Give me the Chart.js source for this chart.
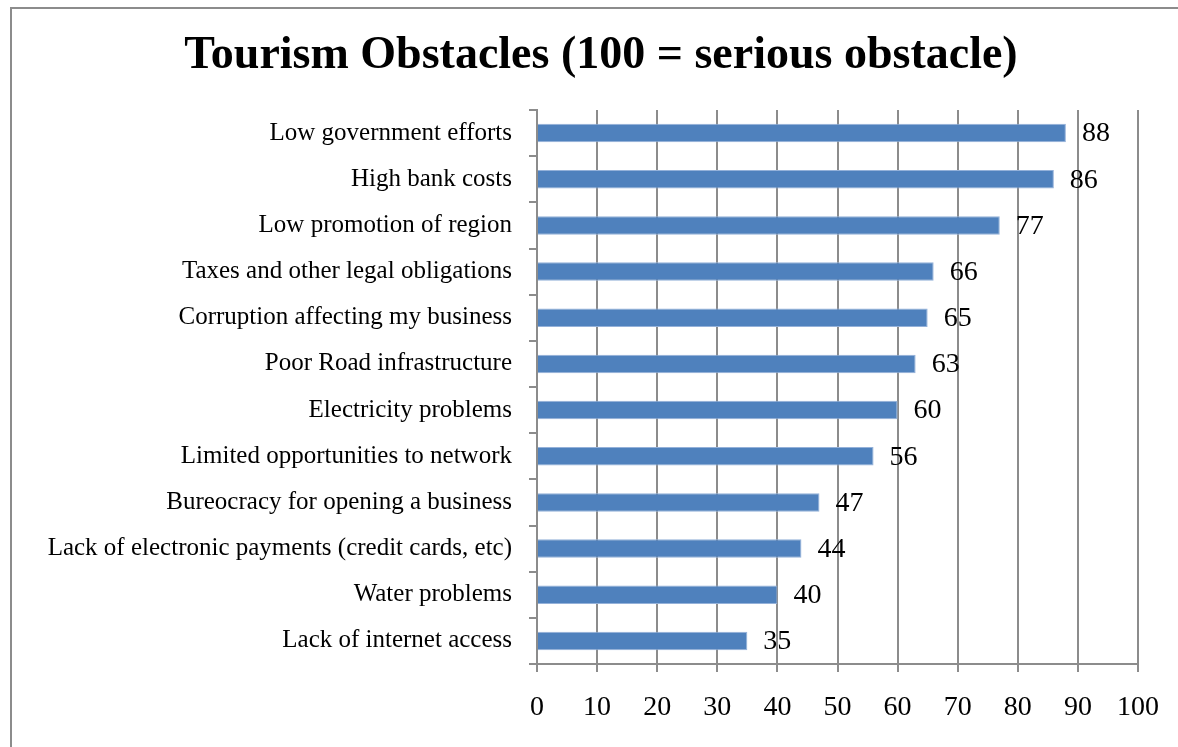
<!DOCTYPE html>
<html>
<head>
<meta charset="utf-8">
<title>Tourism Obstacles</title>
<script src="https://cdn.jsdelivr.net/npm/chart.js@4"></script>
<style>
  html, body { margin: 0; padding: 0; background: #fff; }
  #wrap { position: relative; width: 1178px; height: 747px; overflow: hidden; }
  #frame {
    position: absolute; left: 10px; top: 7px; right: -10px; bottom: -10px;
    border-left: 2px solid #8c8c8c; border-top: 2px solid #8c8c8c;
  }
  #chart { position: absolute; left: 0; top: 0; }
</style>
</head>
<body>
<div id="wrap">
  <div id="frame"></div>
  <canvas id="chart" width="1178" height="747"></canvas>
</div>
<script>
// Obstacle ratings, 0-100 scale (100 = serious obstacle)
const chartTitle = 'Tourism Obstacles (100 = serious obstacle)';
const categories = [
  'Low government efforts',
  'High bank costs',
  'Low promotion of region',
  'Taxes and other legal obligations',
  'Corruption affecting my business',
  'Poor Road infrastructure',
  'Electricity problems',
  'Limited opportunities to network',
  'Bureocracy for opening a business',
  'Lack of electronic payments (credit cards, etc)',
  'Water problems',
  'Lack of internet access'
];
const scores = [88, 86, 77, 66, 65, 63, 60, 56, 47, 44, 40, 35];
const xTicks = [0, 10, 20, 30, 40, 50, 60, 70, 80, 90, 100];

const STYLE = {
  bar:    '#4f81bd',
  barEdge:'#94b1d9',
  grid:   '#8c8c8c',
  text:   '#000',
  serif:  "'Liberation Serif', 'Times New Roman', serif",
};

// title sits centred over the plot + label block, not the whole canvas
const titleText = {
  id: 'titleText',
  afterDraw(chart) {
    const ctx = chart.ctx;
    ctx.save();
    ctx.font = 'bold 46px ' + STYLE.serif;
    ctx.fillStyle = STYLE.text;
    ctx.textAlign = 'center';
    ctx.textBaseline = 'alphabetic';
    ctx.fillText(chartTitle, 601, 68);
    ctx.restore();
  }
};

// numbers printed just past the end of each bar
const valueLabels = {
  id: 'valueLabels',
  afterDatasetsDraw(chart) {
    const ctx = chart.ctx;
    const meta = chart.getDatasetMeta(0);
    ctx.save();
    ctx.font = '28px ' + STYLE.serif;
    ctx.fillStyle = STYLE.text;
    ctx.textAlign = 'left';
    ctx.textBaseline = 'middle';
    meta.data.forEach((bar, i) => {
      ctx.fillText(String(scores[i]), bar.x + 16, bar.y + 1);
    });
    ctx.restore();
  }
};

new Chart(document.getElementById('chart'), {
  type: 'bar',
  data: {
    labels: categories,
    datasets: [{
      data: scores,
      backgroundColor: STYLE.bar,
      borderColor: STYLE.barEdge,
      borderWidth: 1,
      categoryPercentage: 1,
      barPercentage: 0.4,
    }]
  },
  options: {
    indexAxis: 'y',
    responsive: false,
    animation: false,
    layout: { padding: { left: 0, right: 39, top: 110, bottom: 0 } },
    plugins: {
      legend: { display: false },
      tooltip: { enabled: false },
      title: { display: false }
    },
    scales: {
      x: {
        min: 0,
        max: 100,
        afterBuildTicks(scale) { scale.ticks = xTicks.map(v => ({ value: v })); },
        afterFit(scale) { scale.height = 83; },
        ticks: {
          color: STYLE.text,
          font: { family: STYLE.serif, size: 28 },
          padding: 19,
        },
        grid: { color: STYLE.grid, lineWidth: 2, tickLength: 8 },
        border: { color: STYLE.grid, width: 2 }
      },
      y: {
        afterFit(scale) { scale.width = 537; },
        ticks: {
          color: STYLE.text,
          font: { family: STYLE.serif, size: 25 },
          padding: 17,
        },
        grid: { color: STYLE.grid, lineWidth: 2, tickLength: 8, drawOnChartArea: false, offset: true },
        border: { color: STYLE.grid, width: 2 }
      }
    }
  },
  plugins: [valueLabels, titleText]
});
</script>
</body>
</html>
